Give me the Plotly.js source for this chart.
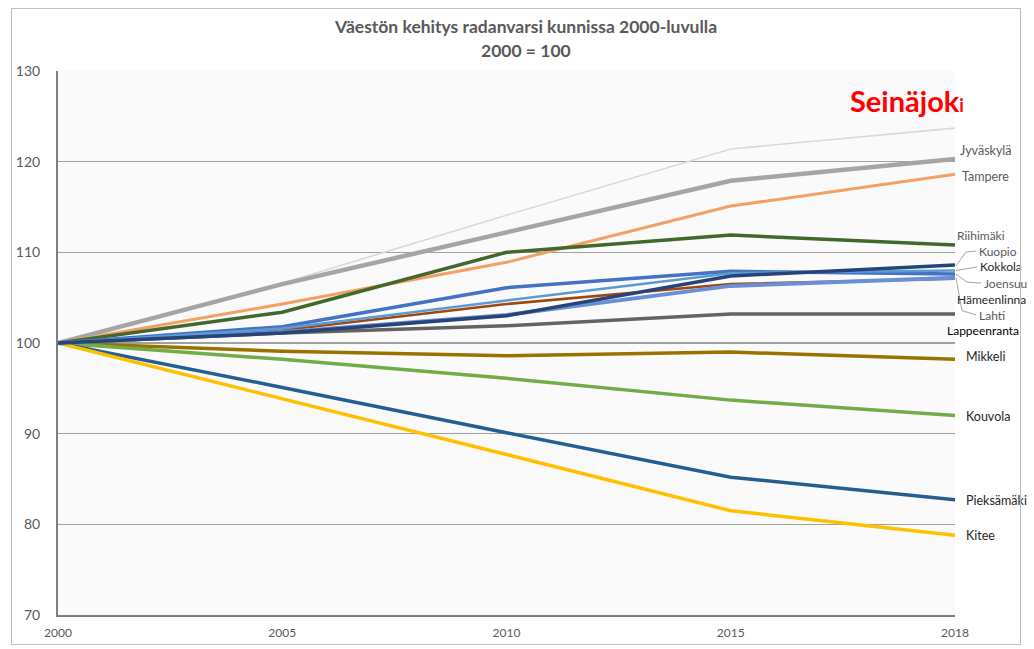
<!DOCTYPE html>
<html>
<head>
<meta charset="utf-8">
<script src="https://cdn.plot.ly/plotly-3.0.1.min.js"></script>
<style>
  html, body { margin: 0; padding: 0; background: #fff; }
  #wrap { position: relative; width: 1034px; height: 649px; }
  #chart { width: 1034px; height: 649px; }
  #frame { position: absolute; left: 11px; top: 8px; width: 1008px; height: 635px;
           border: 1px solid #BFBFBF; pointer-events: none; }
</style>
</head>
<body>
<div id="wrap">
  <div id="chart"></div>
  <div id="frame"></div>
</div>
<script>
// ---- data ----
const years = ['2000', '2005', '2010', '2015', '2018'];
const yTicks = [70, 80, 90, 100, 110, 120, 130];

const seinajoki    = [100, 106.6, 114.1, 121.4, 123.7];
const jyvaskyla    = [100, 106.5, 112.2, 117.9, 120.3];
const tampere      = [100, 104.3, 108.9, 115.1, 118.6];
const riihimaki    = [100, 103.4, 110.0, 111.9, 110.8];
const kuopio       = [100, 101.1, 103.0, 107.4, 108.6];
const kokkola      = [100, 101.6, 104.7, 107.7, 108.0];
const joensuu      = [100, 101.8, 106.1, 107.9, 107.6];
const hameenlinna  = [100, 101.4, 104.3, 106.5, 107.1];
const lahti        = [100, 101.2, 103.1, 106.3, 107.2];
const lappeenranta = [100, 101.1, 101.9, 103.2, 103.2];
const mikkeli      = [100, 99.1, 98.6, 99.0, 98.2];
const kouvola      = [100, 98.2, 96.1, 93.7, 92.0];
const pieksamaki   = [100, 95.1, 90.1, 85.2, 82.7];
const kitee        = [100, 93.9, 87.7, 81.5, 78.8];

// ---- styles ----
const FONT = 'Lato, "Open Sans", "Liberation Sans", Arial, sans-serif';
const M = {l: 58, r: 79, t: 71, b: 34};
const W = 1034, H = 649;
const plotW = W - M.l - M.r, plotH = H - M.t - M.b;
const Y0 = 70, Y1 = 130;

const series = [
  {name: 'Seinäjoki',    y: seinajoki,    color: '#D9D9D9', w: 1.6},
  {name: 'Jyväskylä',    y: jyvaskyla,    color: '#A5A5A5', w: 4.5},
  {name: 'Tampere',      y: tampere,      color: '#F4A062', w: 3},
  {name: 'Riihimäki',    y: riihimaki,    color: '#43682B', w: 3.5},
  {name: 'Lappeenranta', y: lappeenranta, color: '#636363', w: 3.5},
  {name: 'Mikkeli',      y: mikkeli,      color: '#997300', w: 3.5},
  {name: 'Kouvola',      y: kouvola,      color: '#70AD47', w: 3.5},
  {name: 'Pieksämäki',   y: pieksamaki,   color: '#255E91', w: 3.5},
  {name: 'Kitee',        y: kitee,        color: '#FFC000', w: 3.5},
  {name: 'Hämeenlinna',  y: hameenlinna,  color: '#9E480E', w: 2.5},
  {name: 'Lahti',        y: lahti,        color: '#6A8FD6', w: 4},
  {name: 'Joensuu',      y: joensuu,      color: '#4472C4', w: 3.5},
  {name: 'Kokkola',      y: kokkola,      color: '#5B9BD5', w: 2.5},
  {name: 'Kuopio',       y: kuopio,       color: '#264478', w: 3.5}
];

// label placement (pixel offsets from line end; dy positive = down), style only
const labelStyle = {
  'Jyväskylä':    {dx: 4,  dy: -8,   size: 12.5, color: '#595959'},
  'Tampere':      {dx: 6,  dy: 2,    size: 12.5, color: '#595959'},
  'Riihimäki':    {dx: 1,  dy: -10,  size: 12, color: '#595959'},
  'Kuopio':       {dx: 23, dy: -14,  size: 12, color: '#595959', leader: [[1, 1], [11, -13], [21, -14]]},
  'Kokkola':      {dx: 24, dy: -3.5, size: 12, color: '#262626', leader: [[1, 0], [22, -3.5]]},
  'Joensuu':      {dx: 28, dy: 9,    size: 12, color: '#595959', leader: [[1, 0], [12, 8], [26, 9]]},
  'Hämeenlinna':  {dx: 1,  dy: 20.4, size: 12, color: '#262626'},
  'Lahti':        {dx: 23, dy: 37.3, size: 12, color: '#595959', leader: [[1, 0], [7, 33], [21, 37]]},
  'Lappeenranta': {dx: -9, dy: 17,   size: 12, color: '#000000'},
  'Mikkeli':      {dx: 10, dy: -3,   size: 12.5, color: '#262626'},
  'Kouvola':      {dx: 10, dy: 1,    size: 12.5, color: '#262626'},
  'Pieksämäki':   {dx: 10, dy: 1,    size: 12.5, color: '#262626'},
  'Kitee':        {dx: 10, dy: 0,    size: 12.5, color: '#262626'}
};

const traces = series.map(s => ({
  type: 'scatter', mode: 'lines', x: years, y: s.y, name: s.name,
  line: {color: s.color, width: s.w}, hoverinfo: 'name+y', cliponaxis: false
}));

const pxX = px => 1 + px / plotW;                       // paper x right of plot edge
const pxY = (v, px) => v - px * (Y1 - Y0) / plotH;      // data y shifted by px (down)

const annotations = [];
const shapes = [];
series.forEach(s => {
  const st = labelStyle[s.name];
  if (!st) return;
  const endV = s.y[s.y.length - 1];
  annotations.push({
    x: pxX(st.dx), y: pxY(endV, st.dy), xref: 'paper', yref: 'y', text: s.name, showarrow: false,
    xanchor: 'left', yanchor: 'middle', borderpad: 0,
    font: {family: FONT, size: st.size, color: st.color}
  });
  if (st.leader) {
    const path = st.leader.map((p, i) => (i ? 'L' : 'M') + pxX(p[0]) + ',' + pxY(endV, p[1])).join(' ');
    shapes.push({type: 'path', xref: 'paper', yref: 'y', path: path,
                 line: {color: '#A6A6A6', width: 1}, layer: 'above'});
  }
});
// Seinäjoki highlighted label
annotations.push({
  x: 1, y: seinajoki[seinajoki.length - 1], xref: 'paper', yref: 'y',
  text: '<b>Seinäjok<span style="font-size:18px">i</span></b>',
  showarrow: false, xanchor: 'center', yanchor: 'middle', xshift: -48, yshift: 28,
  font: {family: FONT, size: 29, color: '#FF0000'}
});
// second title line
annotations.push({
  x: (526 - M.l) / plotW, y: 1 + (M.t - 50) / plotH, xref: 'paper', yref: 'paper',
  text: '<b>2000 = 100</b>', showarrow: false, xanchor: 'center', yanchor: 'middle',
  font: {family: FONT, size: 17.5, color: '#595959'}
});

const layout = {
  width: W, height: H,
  margin: M,
  paper_bgcolor: '#FFFFFF',
  plot_bgcolor: '#FAFAFA',
  showlegend: false,
  title: {
    text: '<b>Väestön kehitys radanvarsi kunnissa 2000-luvulla</b>',
    font: {family: FONT, size: 17.5, color: '#595959'},
    x: 526 / W, xref: 'container', xanchor: 'center',
    y: 1 - 27 / H, yref: 'container', yanchor: 'middle'
  },
  xaxis: {
    type: 'category', range: [0, 4], showgrid: false, zeroline: false,
    showline: true, linecolor: '#7F7F7F', linewidth: 2,
    ticks: 'outside', ticklen: 6, tickcolor: 'rgba(0,0,0,0)',
    tickfont: {family: FONT, size: 12, color: '#595959'}, fixedrange: true
  },
  yaxis: {
    range: [Y0, Y1], tickvals: yTicks, showgrid: true, gridcolor: '#A0A0A0', gridwidth: 1.5,
    zeroline: false, showline: true, linecolor: '#7F7F7F', linewidth: 2,
    ticks: 'outside', ticklen: 13, tickcolor: 'rgba(0,0,0,0)',
    tickfont: {family: FONT, size: 14, color: '#595959'}, fixedrange: true
  },
  annotations: annotations,
  shapes: shapes
};

Plotly.newPlot('chart', traces, layout, {displayModeBar: false, staticPlot: true});
</script>
</body>
</html>
